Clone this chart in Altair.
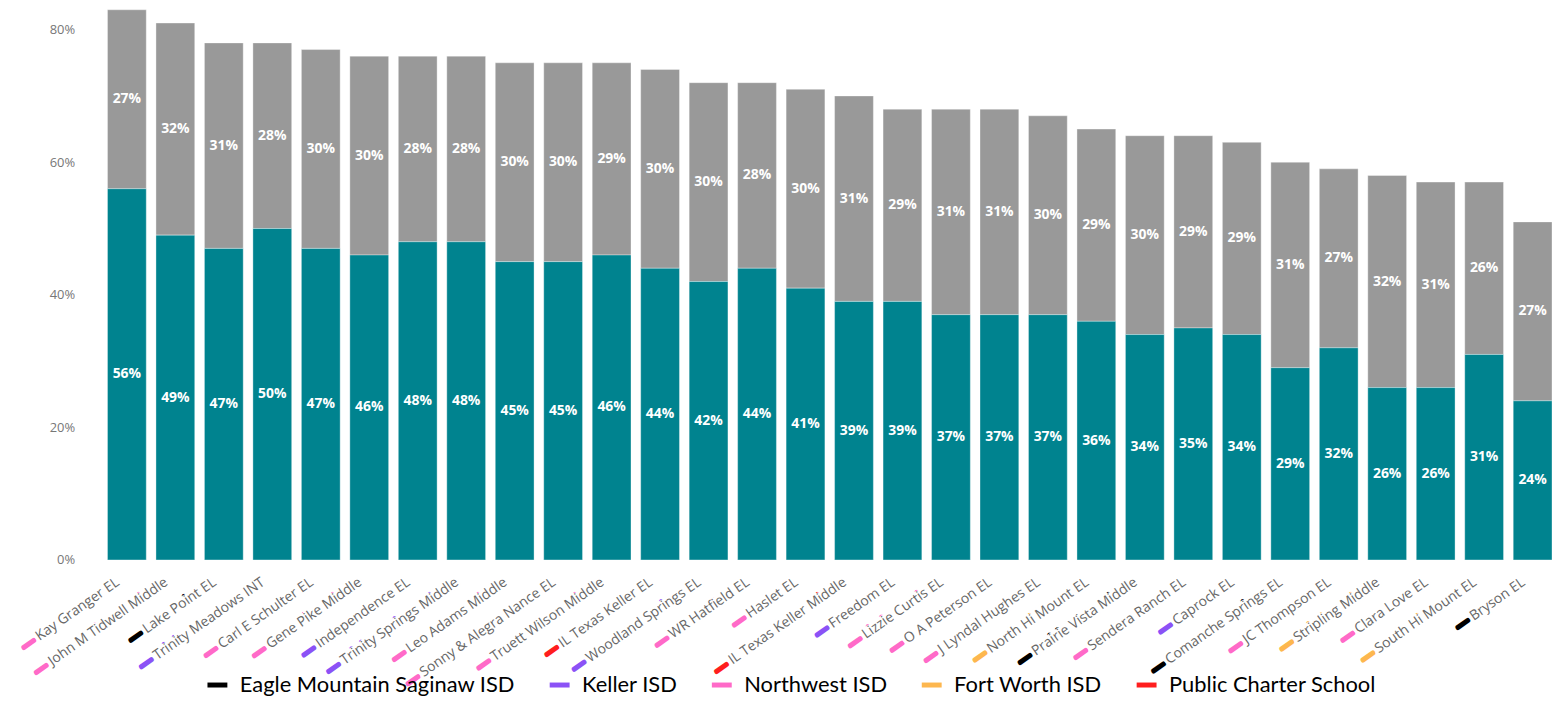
import altair as alt
import pandas as pd

schools = ["Kay Granger EL", "John M Tidwell Middle", "Lake Point EL", "Trinity Meadows INT",
           "Carl E Schulter EL", "Gene Pike Middle", "Independence EL", "Trinity Springs Middle",
           "Leo Adams Middle", "Sonny & Alegra Nance EL", "Truett Wilson Middle", "IL Texas Keller EL",
           "Woodland Springs EL", "WR Hatfield EL", "Haslet EL", "IL Texas Keller Middle",
           "Freedom EL", "Lizzie Curtis EL", "O A Peterson EL", "J Lyndal Hughes EL",
           "North Hi Mount EL", "Prairie Vista Middle", "Sendera Ranch EL", "Caprock EL",
           "Comanche Springs EL", "JC Thompson EL", "Stripling Middle", "Clara Love EL",
           "South Hi Mount EL", "Bryson EL"]
lower = [56, 49, 47, 50, 47, 46, 48, 48, 45, 45, 46, 44, 42, 44, 41, 39,
         39, 37, 37, 37, 36, 34, 35, 34, 29, 32, 26, 26, 31, 24]
upper = [27, 32, 31, 28, 30, 30, 28, 28, 30, 30, 29, 30, 30, 28, 30, 31,
         29, 31, 31, 30, 29, 30, 29, 29, 31, 27, 32, 31, 26, 27]
district = ["Northwest ISD", "Northwest ISD", "Eagle Mountain Saginaw ISD", "Keller ISD",
            "Northwest ISD", "Northwest ISD", "Keller ISD", "Keller ISD",
            "Northwest ISD", "Northwest ISD", "Northwest ISD", "Public Charter School",
            "Keller ISD", "Northwest ISD", "Northwest ISD", "Public Charter School",
            "Keller ISD", "Northwest ISD", "Northwest ISD", "Northwest ISD",
            "Fort Worth ISD", "Eagle Mountain Saginaw ISD", "Northwest ISD", "Keller ISD",
            "Eagle Mountain Saginaw ISD", "Northwest ISD", "Fort Worth ISD", "Northwest ISD",
            "Fort Worth ISD", "Eagle Mountain Saginaw ISD"]
districts = ["Eagle Mountain Saginaw ISD", "Keller ISD", "Northwest ISD", "Fort Worth ISD",
             "Public Charter School"]
district_colors = ["#000000", "#8B52F6", "#FF6AC8", "#FDB74F", "#FF1E1E"]
y_ticks = [0, 20, 40, 60, 80]

df = pd.DataFrame({"school": schools, "lower": lower, "upper": upper, "district": district})
df["total"] = df["lower"] + df["upper"]
df["zero"] = 0
df["lowMid"] = df["lower"] / 2
df["upMid"] = df["lower"] + df["upper"] / 2
df["lowLbl"] = df["lower"].astype(str) + "%"
df["upLbl"] = df["upper"].astype(str) + "%"
df["dashLbl"] = "\u2014  " + df["school"]

leg_df = pd.DataFrame({"district": districts})

W, H = 1452, 553
TEAL = "#00838F"
GREY = "#999999"

base = alt.Chart(df)
xenc = alt.X("school:N", sort=schools,
             scale=alt.Scale(paddingInner=0.2, paddingOuter=0, round=False), axis=None)
yscale = alt.Scale(domain=[0, 83], nice=False)

grey_bars = base.mark_bar(color=GREY, stroke="#ffffff", strokeOpacity=0.35, strokeWidth=1).encode(
    x=xenc,
    y=alt.Y("lower:Q", scale=yscale,
            axis=alt.Axis(values=y_ticks, labelExpr="datum.value + '%'", title=None,
                          grid=False, domain=False, ticks=False, labelPadding=33,
                          labelColor="#777777", labelFont="Open Sans", labelFontSize=13)),
    y2="total:Q",
)
teal_bars = base.mark_bar(color=TEAL, stroke="#ffffff", strokeOpacity=0.35, strokeWidth=1).encode(
    x=xenc, y=alt.Y("zero:Q", scale=yscale), y2="lower:Q"
)

low_txt = base.mark_text(color="white", fontWeight="bold", font="Open Sans", fontSize=14).encode(
    x=xenc, y=alt.Y("lowMid:Q", scale=yscale), text="lowLbl:N")
up_txt = base.mark_text(color="white", fontWeight="bold", font="Open Sans", fontSize=14).encode(
    x=xenc, y=alt.Y("upMid:Q", scale=yscale), text="upLbl:N")

lab_props = dict(angle=325, align="right", baseline="middle", font="Open Sans", fontSize=14, dx=-11)
lab_y = alt.value(H + 15)

leg = alt.Legend(title=None, orient="none", legendX=98, legendY=H + 113,
                 direction="horizontal", symbolType="stroke",
                 symbolSize=400, symbolStrokeWidth=5,
                 labelFont="Lato", labelFontSize=22, labelColor="#000000",
                 labelOffset=10, columnPadding=24, labelLimit=400)
cscale = alt.Scale(domain=districts, range=district_colors)

dash_lab = base.mark_text(strokeWidth=4, strokeJoin="round", strokeCap="round", **lab_props).encode(
    x=xenc, y=lab_y, text="dashLbl:N",
    fill=alt.Fill("district:N", scale=cscale, legend=leg),
    stroke=alt.Stroke("district:N", scale=cscale, legend=leg),
)
cover_lab = base.mark_text(color="white", stroke="white", strokeWidth=6, strokeJoin="round",
                           **lab_props).encode(x=xenc, y=lab_y, text="school:N")
grey_lab = base.mark_text(color="#666666", **lab_props).encode(
    x=xenc, y=lab_y, text="school:N")

legend_src = alt.Chart(leg_df).mark_rule(strokeWidth=5, strokeCap="round").encode(
    x=alt.value(0), x2=alt.value(0), y=alt.value(-20), y2=alt.value(-20),
    color=alt.Color("district:N", scale=cscale, legend=leg),
)

chart = alt.layer(grey_bars, teal_bars, low_txt, up_txt, dash_lab, cover_lab, grey_lab,
                  legend_src).properties(
    width=W, height=H,
    autosize=alt.AutoSizeParams(type="none"),
    padding={"left": 100, "top": 0, "right": 0, "bottom": 135},
).configure_view(stroke=None)

chart.save("out.html", embed_options={"renderer": "svg", "actions": False})
